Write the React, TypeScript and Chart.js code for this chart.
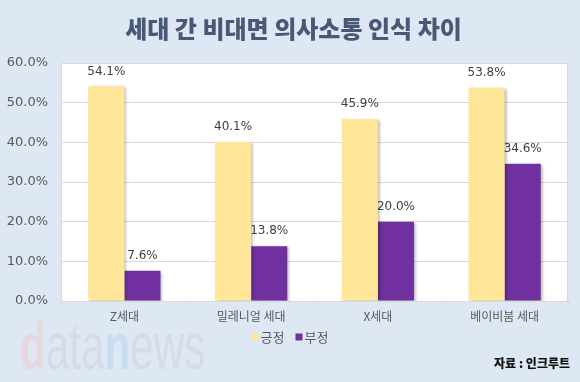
import React, { useEffect, useRef } from "react";
import { Chart, registerables } from "chart.js";

Chart.register(...registerables);

const categories = ["Z세대", "밀레니얼 세대", "X세대", "베이비붐 세대"];
const positive = [54.1, 40.1, 45.9, 53.8];
const negative = [7.6, 13.8, 20.0, 34.6];
const seriesNames = ["긍정", "부정"];
const seriesColors = ["#FFE699", "#7030A0"];
const yMax = 60;
const yStep = 10;

const BG = "#DEE8F4";

const plotBg = {
  id: "plotBg",
  beforeDraw(chart: any) {
    const { ctx, chartArea } = chart;
    ctx.save();
    ctx.fillStyle = BG;
    ctx.fillRect(0, 0, chart.width, chart.height);
    ctx.fillStyle = "#FFFFFF";
    ctx.fillRect(chartArea.left, chartArea.top, chartArea.right - chartArea.left, chartArea.bottom - chartArea.top);
    ctx.strokeStyle = "#D9D9D9";
    ctx.lineWidth = 1;
    ctx.strokeRect(chartArea.left + 0.5, chartArea.top + 0.5, chartArea.right - chartArea.left - 1, chartArea.bottom - chartArea.top);
    ctx.restore();
  },
};

const customLegend = {
  id: "customLegend",
  afterDraw(chart: any) {
    const ctx = chart.ctx;
    ctx.save();
    ctx.font = "13px 'Noto Sans CJK KR'";
    ctx.textBaseline = "middle";
    ctx.textAlign = "left";
    const box = 7;
    const gap = 2;
    const itemGap = 11;
    const items = chart.data.datasets.map((ds: any) => ({
      text: ds.label,
      color: ds.backgroundColor,
      w: box + gap + ctx.measureText(ds.label).width,
    }));
    const total = items.reduce((s: number, it: any) => s + it.w, 0) + itemGap * (items.length - 1);
    let x = chart.width / 2 - total / 2;
    const y = chart.scales.x.bottom + 10;
    items.forEach((it: any) => {
      ctx.fillStyle = it.color;
      ctx.fillRect(x, y - box / 2, box, box);
      ctx.fillStyle = "#595959";
      ctx.fillText(it.text, x + box + gap, y);
      x += it.w + itemGap;
    });
    ctx.restore();
  },
};

const barShadow = {
  id: "barShadow",
  beforeDatasetsDraw(chart: any) {
    const ctx = chart.ctx;
    ctx.save();
    ctx.shadowColor = "rgba(0,0,0,0.3)";
    ctx.shadowBlur = 3;
    ctx.shadowOffsetX = 2;
    ctx.shadowOffsetY = 1;
  },
  afterDatasetsDraw(chart: any) {
    chart.ctx.restore();
  },
};

const valueLabels = {
  id: "valueLabels",
  afterDatasetsDraw(chart: any) {
    const ctx = chart.ctx;
    ctx.save();
    ctx.font = "12px 'DejaVu Sans'";
    ctx.fillStyle = "#404040";
    ctx.textAlign = "center";
    ctx.textBaseline = "middle";
    chart.data.datasets.forEach((ds: any, i: number) => {
      const meta = chart.getDatasetMeta(i);
      meta.data.forEach((el: any, j: number) => {
        ctx.fillText(ds.data[j].toFixed(1) + "%", el.x, el.y - 15);
      });
    });
    ctx.restore();
  },
};

export default function App() {
  const ref = useRef<HTMLCanvasElement>(null);
  useEffect(() => {
    if (!ref.current) return;
    const chart = new Chart(ref.current, {
      type: "bar",
      data: {
        labels: categories,
        datasets: [
          { label: seriesNames[0], data: positive, backgroundColor: seriesColors[0], borderWidth: 0 },
          { label: seriesNames[1], data: negative, backgroundColor: seriesColors[1], borderWidth: 0 },
        ],
      },
      options: {
        animation: false,
        responsive: false,
        devicePixelRatio: 1,
        layout: { padding: { top: 63, right: 12, left: 0, bottom: 55 } },
        datasets: { bar: { categoryPercentage: 0.57, barPercentage: 1 } },
        scales: {
          x: {
            grid: { display: true, drawOnChartArea: false, offset: true, tickLength: 4, color: "#D9D9D9" },
            border: { color: "#D9D9D9" },
            ticks: { color: "#595959", font: { family: "'Noto Sans CJK KR'", size: 12 }, padding: 4 },
            afterFit(scale: any) {
              scale.height = 26;
            },
          },
          y: {
            min: 0,
            max: yMax,
            ticks: {
              stepSize: yStep,
              color: "#595959",
              font: { family: "'DejaVu Sans'", size: 13 },
              padding: 13,
              callback: (v: any) => Number(v).toFixed(1) + "%",
            },
            grid: { color: "#D9D9D9", drawTicks: false },
            border: { display: false },
            afterFit(scale: any) {
              scale.width = 61;
            },
          },
        },
        plugins: {
          legend: { display: false },
          tooltip: { enabled: false },
          title: { display: false },
        },
      },
      plugins: [plotBg, barShadow, valueLabels, customLegend],
    });
    return () => chart.destroy();
  }, []);

  return (
    <div style={{ position: "fixed", left: 0, top: 0, width: 580, height: 382, background: BG, overflow: "hidden" }}>
      <canvas ref={ref} width={580} height={382} style={{ position: "absolute", left: 0, top: 0 }} />
      <div
        style={{
          position: "absolute",
          left: 0,
          width: 587,
          top: 12,
          textAlign: "center",
          fontFamily: "'Noto Sans CJK KR'",
          fontWeight: 900,
          fontSize: 24,
          lineHeight: "32px",
          color: "#4A5878",
          whiteSpace: "nowrap",
        }}
      >
        세대 간 비대면 의사소통 인식 차이
      </div>
      <div
        style={{
          position: "absolute",
          left: 20,
          top: 306,
          fontFamily: "'Liberation Sans'",
          fontSize: 66,
          lineHeight: "80px",
          transform: "scaleX(0.64)",
          transformOrigin: "left top",
          whiteSpace: "nowrap",
          color: "#D5DCE6",
        }}
      >
        <span style={{ color: "#E5D8E1", fontWeight: 700 }}>d</span>ata
        <span style={{ color: "#C9DDF0", fontWeight: 700 }}>n</span>ews
      </div>
      <div
        style={{
          position: "absolute",
          right: 10,
          top: 354,
          fontFamily: "'Noto Sans CJK KR'",
          fontWeight: 900,
          fontSize: 12,
          lineHeight: "18px",
          color: "#111111",
          whiteSpace: "nowrap",
        }}
      >
        자료 : 인크루트
      </div>
    </div>
  );
}
